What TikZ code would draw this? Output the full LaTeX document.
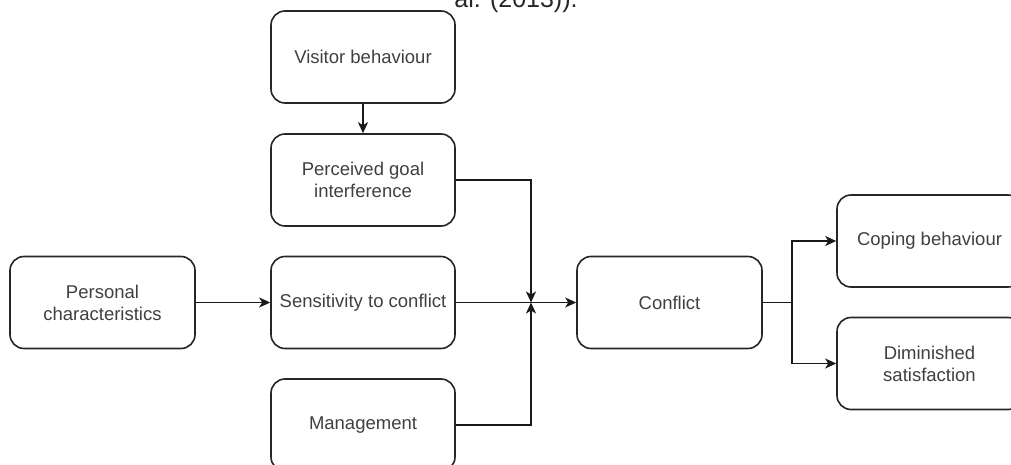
\documentclass[tikz,border=0pt]{standalone}
\usepackage{fontspec}
\setmainfont{Liberation Sans}
\usetikzlibrary{arrows.meta}
\begin{document}
\begin{tikzpicture}[x=1pt,y=-1pt,
  box/.style={draw=black!85, line width=1.6pt, rounded corners=14pt, fill=white,
    minimum width=184pt, minimum height=92pt, align=center, inner sep=2pt,
    text=black!75, font=\fontsize{18.5}{22}\selectfont},
  wire/.style={draw=black!90, line width=1.6pt},
  link/.style={wire, -{Stealth[length=11pt,width=10pt,inset=3pt]}}]
\useasboundingbox (0,0) rectangle (1011,465);
\clip (0,0) rectangle (1011,465);

% tail of the caption line above the figure
\node[anchor=base, inner sep=0pt, font=\fontsize{25}{30}\selectfont, text=black!85]
  (cap) at (516,8) {al. (2013)).};

% boxes
\node[box] (vis)  at (363,57)      {Visitor behaviour};
\node[box] (pgi)  at (363,180)     {Perceived goal\\interference};
\node[box] (sens) at (363,302.5)   {Sensitivity to conflict};
\node[box] (mgmt) at (363,425)     {Management};
\node[box, minimum width=185pt] (pers) at (102.5,302.5) {Personal\\characteristics};
\node[box, minimum width=185pt] (conf) at (669.5,302.5) {Conflict};
\node[box, minimum width=185pt] (cope) at (929.5,241)   {Coping behaviour};
\node[box, minimum width=185pt] (dim)  at (929.5,363.5) {Diminished\\satisfaction};

% junction points
\coordinate (j) at (531,302.5);
\coordinate (b) at (792,302.5);

% connectors
\draw[link] (vis) -- (pgi);
\draw[link] (pers) -- (sens);
\draw[link] (sens) -- (conf);
\draw[link] (pgi.east) -| (j);
\draw[link] (mgmt.east) -| (j);
\draw[wire] (conf.east) -- (b);
\draw[link] (b) |- (cope.west);
\draw[link] (b) |- (dim.west);
\end{tikzpicture}
\end{document}
